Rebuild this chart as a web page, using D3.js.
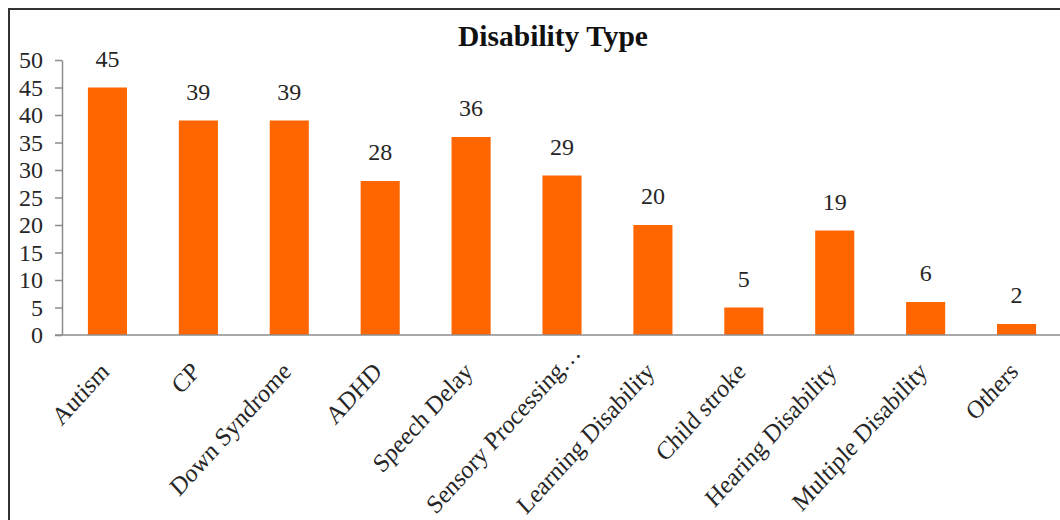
<!DOCTYPE html>
<html><head><meta charset="utf-8">
<script src="https://cdn.jsdelivr.net/npm/d3@7"></script>
<style>body{margin:0;background:#fff;}svg{display:block;}</style>
</head><body>
<svg id="c" width="1060" height="520"></svg>
<script>
const categories = ["Autism","CP","Down Syndrome","ADHD","Speech Delay","Sensory Processing\u2026","Learning Disability","Child stroke","Hearing Disability","Multiple Disability","Others"];
const values = [45,39,39,28,36,29,20,5,19,6,2];
const yTicks = [0,5,10,15,20,25,30,35,40,45,50];
const title = "Disability Type";

const svg = d3.select("#c");
const font = "'Liberation Serif','Times New Roman',serif";
svg.append("rect").attr("width",1060).attr("height",520).attr("fill","#fff");
// chart border (top & left visible)
svg.append("path").attr("d","M9,540 L9,9 L1070,9").attr("fill","none").attr("stroke","#333").attr("stroke-width",2);

const x = d3.scaleBand().domain(categories).range([62,1062]).paddingInner(0.57).paddingOuter(0.285);
const y = d3.scaleLinear().domain([0,50]).range([335,60]);

svg.append("text").attr("x",553).attr("y",46).attr("text-anchor","middle")
  .attr("font-family",font).attr("font-weight","bold").attr("font-size",29.5).attr("fill","#111").text(title);

const ya = svg.append("g").attr("transform","translate(62,0)")
  .call(d3.axisLeft(y).tickValues(yTicks).tickSize(7).tickPadding(12).tickSizeOuter(0));
ya.select(".domain").attr("stroke","#8c8c8c").attr("stroke-width",1.5);
ya.selectAll(".tick line").attr("stroke","#8c8c8c").attr("stroke-width",1.5);
ya.selectAll(".tick text").attr("font-family",font).attr("font-size",24).attr("fill","#262626");

svg.append("g").selectAll("rect").data(values).join("rect")
  .attr("x",(d,i)=>x(categories[i])).attr("width",x.bandwidth())
  .attr("y",d=>y(d)).attr("height",d=>y(0)-y(d)).attr("fill","#FF6600");

svg.append("line").attr("x1",55).attr("x2",1062).attr("y1",y(0)).attr("y2",y(0))
  .attr("stroke","#8c8c8c").attr("stroke-width",1.5);

svg.append("g").selectAll("text").data(values).join("text")
  .attr("x",(d,i)=>x(categories[i])+x.bandwidth()/2).attr("y",d=>y(d)-21)
  .attr("text-anchor","middle").attr("font-family",font).attr("font-size",24).attr("fill","#262626")
  .text(d=>d);

// truncated labels (ending in an ellipsis) sit further along the diagonal
svg.append("g").selectAll("text").data(categories).join("text")
  .attr("transform",d=>`translate(${x(d)+x.bandwidth()/2+3},${y(0)+38}) scale(1,1.1) rotate(-45)`)
  .attr("x",d=>d.endsWith("\u2026")?24:0)
  .attr("text-anchor","end").attr("font-family",font).attr("font-size",23.5).attr("fill","#262626")
  .text(d=>d);
</script>
</body></html>
